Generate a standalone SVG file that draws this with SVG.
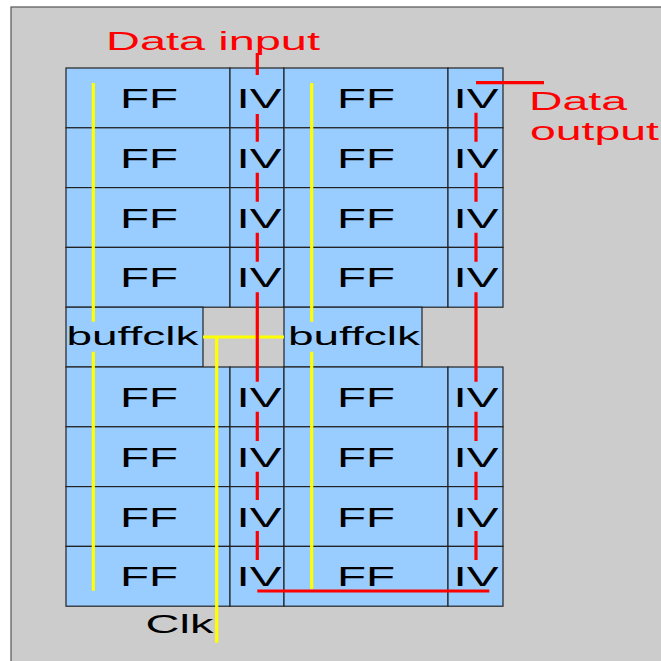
<svg xmlns="http://www.w3.org/2000/svg" width="661" height="661" viewBox="0 0 661 661">
<style>
.bg{fill:#cccccc;stroke:#555555;stroke-width:1.2}
.cell{fill:#99ccff;stroke:#222222;stroke-width:1.2}
.t{font-family:"Liberation Sans",Arial,sans-serif;font-size:28px;fill:#000;text-anchor:middle}
.b{font-family:"Liberation Sans",Arial,sans-serif;font-size:25px;fill:#000}
.r{font-family:"Liberation Sans",Arial,sans-serif;font-size:25px;fill:#ff0000}
.clk{fill:none;stroke:#ffff00;stroke-width:3.2}
.data{fill:none;stroke:#ff0000;stroke-width:3.2}
</style>
<rect class="bg" x="11" y="7" width="660" height="670"/>
<g id="cells">
<g id="r0"><rect class="cell" x="66" y="68" width="164" height="59.8"/><rect class="cell" x="230" y="68" width="54" height="59.8"/><rect class="cell" x="284" y="68" width="164" height="59.8"/><rect class="cell" x="448" y="68" width="55" height="59.8"/>
<text class="t" x="149" y="108" textLength="58" lengthAdjust="spacingAndGlyphs">FF</text><text class="t" x="259" y="108" textLength="45" lengthAdjust="spacingAndGlyphs">IV</text><text class="t" x="366" y="108" textLength="58" lengthAdjust="spacingAndGlyphs">FF</text><text class="t" x="476" y="108" textLength="45" lengthAdjust="spacingAndGlyphs">IV</text></g>
<g id="r1"><rect class="cell" x="66" y="127.8" width="164" height="59.8"/><rect class="cell" x="230" y="127.8" width="54" height="59.8"/><rect class="cell" x="284" y="127.8" width="164" height="59.8"/><rect class="cell" x="448" y="127.8" width="55" height="59.8"/>
<text class="t" x="149" y="167.8" textLength="58" lengthAdjust="spacingAndGlyphs">FF</text><text class="t" x="259" y="167.8" textLength="45" lengthAdjust="spacingAndGlyphs">IV</text><text class="t" x="366" y="167.8" textLength="58" lengthAdjust="spacingAndGlyphs">FF</text><text class="t" x="476" y="167.8" textLength="45" lengthAdjust="spacingAndGlyphs">IV</text></g>
<g id="r2"><rect class="cell" x="66" y="187.6" width="164" height="59.8"/><rect class="cell" x="230" y="187.6" width="54" height="59.8"/><rect class="cell" x="284" y="187.6" width="164" height="59.8"/><rect class="cell" x="448" y="187.6" width="55" height="59.8"/>
<text class="t" x="149" y="227.6" textLength="58" lengthAdjust="spacingAndGlyphs">FF</text><text class="t" x="259" y="227.6" textLength="45" lengthAdjust="spacingAndGlyphs">IV</text><text class="t" x="366" y="227.6" textLength="58" lengthAdjust="spacingAndGlyphs">FF</text><text class="t" x="476" y="227.6" textLength="45" lengthAdjust="spacingAndGlyphs">IV</text></g>
<g id="r3"><rect class="cell" x="66" y="247.4" width="164" height="59.8"/><rect class="cell" x="230" y="247.4" width="54" height="59.8"/><rect class="cell" x="284" y="247.4" width="164" height="59.8"/><rect class="cell" x="448" y="247.4" width="55" height="59.8"/>
<text class="t" x="149" y="287.4" textLength="58" lengthAdjust="spacingAndGlyphs">FF</text><text class="t" x="259" y="287.4" textLength="45" lengthAdjust="spacingAndGlyphs">IV</text><text class="t" x="366" y="287.4" textLength="58" lengthAdjust="spacingAndGlyphs">FF</text><text class="t" x="476" y="287.4" textLength="45" lengthAdjust="spacingAndGlyphs">IV</text></g>
<g id="buffclk1"><rect class="cell" x="66" y="307.2" width="137" height="59.8"/><text class="t" style="font-size:25px" x="132.5" y="345" textLength="132" lengthAdjust="spacingAndGlyphs">buffclk</text></g>
<g id="buffclk2"><rect class="cell" x="284" y="307.2" width="138" height="59.8"/><text class="t" style="font-size:25px" x="354" y="345" textLength="132" lengthAdjust="spacingAndGlyphs">buffclk</text></g>
<g id="r5"><rect class="cell" x="66" y="367" width="164" height="59.8"/><rect class="cell" x="230" y="367" width="54" height="59.8"/><rect class="cell" x="284" y="367" width="164" height="59.8"/><rect class="cell" x="448" y="367" width="55" height="59.8"/>
<text class="t" x="149" y="407" textLength="58" lengthAdjust="spacingAndGlyphs">FF</text><text class="t" x="259" y="407" textLength="45" lengthAdjust="spacingAndGlyphs">IV</text><text class="t" x="366" y="407" textLength="58" lengthAdjust="spacingAndGlyphs">FF</text><text class="t" x="476" y="407" textLength="45" lengthAdjust="spacingAndGlyphs">IV</text></g>
<g id="r6"><rect class="cell" x="66" y="426.8" width="164" height="59.8"/><rect class="cell" x="230" y="426.8" width="54" height="59.8"/><rect class="cell" x="284" y="426.8" width="164" height="59.8"/><rect class="cell" x="448" y="426.8" width="55" height="59.8"/>
<text class="t" x="149" y="466.8" textLength="58" lengthAdjust="spacingAndGlyphs">FF</text><text class="t" x="259" y="466.8" textLength="45" lengthAdjust="spacingAndGlyphs">IV</text><text class="t" x="366" y="466.8" textLength="58" lengthAdjust="spacingAndGlyphs">FF</text><text class="t" x="476" y="466.8" textLength="45" lengthAdjust="spacingAndGlyphs">IV</text></g>
<g id="r7"><rect class="cell" x="66" y="486.6" width="164" height="59.8"/><rect class="cell" x="230" y="486.6" width="54" height="59.8"/><rect class="cell" x="284" y="486.6" width="164" height="59.8"/><rect class="cell" x="448" y="486.6" width="55" height="59.8"/>
<text class="t" x="149" y="526.6" textLength="58" lengthAdjust="spacingAndGlyphs">FF</text><text class="t" x="259" y="526.6" textLength="45" lengthAdjust="spacingAndGlyphs">IV</text><text class="t" x="366" y="526.6" textLength="58" lengthAdjust="spacingAndGlyphs">FF</text><text class="t" x="476" y="526.6" textLength="45" lengthAdjust="spacingAndGlyphs">IV</text></g>
<g id="r8"><rect class="cell" x="66" y="546.4" width="164" height="59.8"/><rect class="cell" x="230" y="546.4" width="54" height="59.8"/><rect class="cell" x="284" y="546.4" width="164" height="59.8"/><rect class="cell" x="448" y="546.4" width="55" height="59.8"/>
<text class="t" x="149" y="586.4" textLength="58" lengthAdjust="spacingAndGlyphs">FF</text><text class="t" x="259" y="586.4" textLength="45" lengthAdjust="spacingAndGlyphs">IV</text><text class="t" x="366" y="586.4" textLength="58" lengthAdjust="spacingAndGlyphs">FF</text><text class="t" x="476" y="586.4" textLength="45" lengthAdjust="spacingAndGlyphs">IV</text></g>
</g>
<g id="labels">
<text class="r" x="106" y="50" textLength="214" lengthAdjust="spacingAndGlyphs">Data input</text>
<text class="r" x="529" y="110" textLength="98" lengthAdjust="spacingAndGlyphs">Data</text>
<text class="r" x="530" y="140" textLength="129" lengthAdjust="spacingAndGlyphs">output</text>
<text class="b" x="145.5" y="633" textLength="68" lengthAdjust="spacingAndGlyphs">Clk</text>
</g>
<g id="connectors">
<path class="clk" d="M93.3 83 V321.7 M93.3 351.7 V590.7 M311.7 83 V321.7 M311.7 351.7 V589 M203 337 H284 M216.7 337 V642.7"/>
<path class="data" d="M257.3 53 V75 M257.3 114 V141.7 M257.3 172.7 V201.7 M257.3 232.7 V261.7 M257.3 292.3 V381.7 M257.3 411.7 V441 M257.3 471.7 V500 M257.3 531 V560 M257.3 591 H489.3 M476 82.7 H544 M476 112.7 V141.7 M476 172.7 V201.7 M476 232.7 V261.7 M476 292.3 V381.7 M476 411.7 V441 M476 471.7 V500 M476 531 V560"/>
</g>
</svg>
